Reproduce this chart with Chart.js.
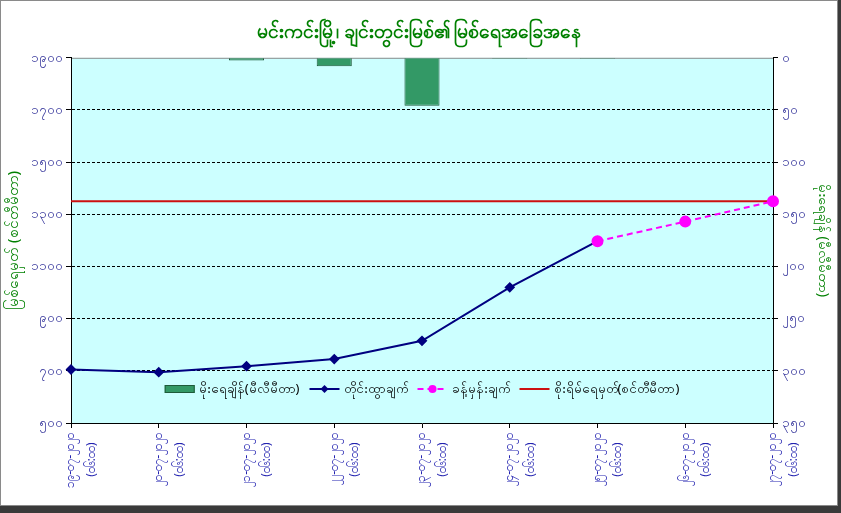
<!DOCTYPE html>
<html>
<head>
<meta charset="utf-8">
<script src="https://cdn.jsdelivr.net/npm/chart.js@4.4.1/dist/chart.umd.min.js"></script>
<style>
    body { margin: 0; background: #3a3a3a; }
    #wrap { position: absolute; left: 0; top: 0; width: 836px; height: 504px; background: #fff; border: 1px solid #8a8a8a; }
</style>
</head>
<body>
<div id="wrap"><canvas id="riverChart" width="836" height="504"></canvas></div>
<script>
// Chart data
const dateLabels = ['၁၉-၀၇-၂၀၂၀', '၂၀-၀၇-၂၀၂၀', '၂၁-၀၇-၂၀၂၀', '၂၂-၀၇-၂၀၂၀', '၂၃-၀၇-၂၀၂၀',
                    '၂၄-၀၇-၂၀၂၀', '၂၅-၀၇-၂၀၂၀', '၂၆-၀၇-၂၀၂၀', '၂၇-၀၇-၂၀၂၀'];
const timeLabel = '(၀၆:၀၀)';

const rainfall = [null, null, 2.5, 8, 46, 1, 1, null, null];
const observed = [705, 695, 718, 745, 815, 1020, 1197, null, null];
const forecast = [null, null, null, null, null, null, 1197, 1272, 1350];
const dangerLevel = [1350, 1350, 1350, 1350, 1350, 1350, 1350, 1350, 1350];

const leftTicks = ['၅၀၀', '၇၀၀', '၉၀၀', '၁၁၀၀', '၁၃၀၀', '၁၅၀၀', '၁၇၀၀', '၁၉၀၀'];
const rightTicks = ['၀', '၅၀', '၁၀၀', '၁၅၀', '၂၀၀', '၂၅၀', '၃၀၀', '၃၅၀'];

const seriesNames = ['မိုးရေချိန်(မီလီမီတာ)', 'တိုင်းထွာချက်', 'ခန့်မှန်းချက်', 'စိုးရိမ်ရေမှတ်(စင်တီမီတာ)'];
const chartTitle = 'မင်းကင်းမြို့၊ ချင်းတွင်းမြစ်၏ မြစ်ရေအခြေအနေ';
const leftTitle = 'မြစ်ရေမှတ် (စင်တီမီတာ)';
const rightTitle = 'မိုးရေချိန် (မီလီမီတာ)';

Chart.defaults.font.family = '"Noto Sans", "DejaVu Sans", sans-serif';

// cyan plot background + grey top border
const plotBackground = {
    id: 'plotBackground',
    beforeDraw(chart) {
        const { ctx, chartArea: a } = chart;
        ctx.save();
        ctx.fillStyle = '#ccffff';
        ctx.fillRect(a.left, a.top, a.right - a.left, a.bottom - a.top);
        ctx.strokeStyle = '#8c8c8c';
        ctx.lineWidth = 1;
        ctx.beginPath();
        ctx.moveTo(a.left, a.top + 0.5);
        ctx.lineTo(a.right, a.top + 0.5);
        ctx.stroke();
        ctx.restore();
    }
};

// legend drawn inside the plot area, near the bottom
const insideLegend = {
    id: 'insideLegend',
    afterDatasetsDraw(chart) {
        const { ctx, chartArea: a } = chart;
        const sets = chart.data.datasets;
        ctx.save();
        ctx.font = '13px "Noto Sans", "DejaVu Sans", sans-serif';
        const sym = 30, gap = 4, space = 10;
        const widths = sets.map(d => sym + gap + ctx.measureText(d.label).width);
        const total = widths.reduce((s, w) => s + w, 0) + space * (sets.length - 1);
        let x = (a.left + a.right) / 2 - total / 2;
        const y = a.bottom - 34;
        sets.forEach((d, i) => {
            if (d.type === 'bar') {
                ctx.fillStyle = d.backgroundColor;
                ctx.strokeStyle = d.borderColor;
                ctx.lineWidth = 1;
                ctx.fillRect(x, y - 4, sym, 8);
                ctx.strokeRect(x + 0.5, y - 3.5, sym - 1, 7);
            } else {
                ctx.strokeStyle = d.borderColor;
                ctx.lineWidth = d.borderWidth;
                ctx.setLineDash(d.borderDash || []);
                ctx.beginPath();
                ctx.moveTo(x, y);
                ctx.lineTo(x + sym, y);
                ctx.stroke();
                ctx.setLineDash([]);
                if (d.pointRadius > 0) {
                    ctx.fillStyle = d.pointBackgroundColor;
                    const r = d.pointRadius;
                    const cx = x + sym / 2;
                    ctx.beginPath();
                    if (d.pointStyle === 'rectRot') {
                        ctx.moveTo(cx, y - r);
                        ctx.lineTo(cx + r, y);
                        ctx.lineTo(cx, y + r);
                        ctx.lineTo(cx - r, y);
                        ctx.closePath();
                    } else {
                        ctx.arc(cx, y, r - 1, 0, Math.PI * 2);
                    }
                    ctx.fill();
                }
            }
            ctx.fillStyle = '#000';
            ctx.textBaseline = 'middle';
            ctx.textAlign = 'left';
            ctx.fillText(d.label, x + sym + gap, y);
            x += widths[i] + space;
        });
        ctx.restore();
    }
};

const ctx = document.getElementById('riverChart').getContext('2d');
new Chart(ctx, {
    data: {
        // trailing spaces centre the shorter time line against the date line
        labels: dateLabels.map(d => [d, timeLabel + '   ']),
        datasets: [
            {
                type: 'bar',
                label: seriesNames[0],
                data: rainfall,
                yAxisID: 'y1',
                backgroundColor: '#339966',
                borderColor: '#1e5a3a',
                borderWidth: 1,
                barPercentage: 0.4,
                categoryPercentage: 1,
                order: 2
            },
            {
                type: 'line',
                label: seriesNames[1],
                data: observed,
                yAxisID: 'y',
                borderColor: '#000080',
                borderWidth: 2,
                pointStyle: 'rectRot',
                pointRadius: 4,
                pointBackgroundColor: '#000080',
                pointBorderColor: '#000080',
                order: 1
            },
            {
                type: 'line',
                label: seriesNames[2],
                data: forecast,
                yAxisID: 'y',
                borderColor: '#ff00ff',
                borderWidth: 2,
                borderDash: [6, 4],
                pointStyle: 'circle',
                pointRadius: 5,
                pointBackgroundColor: '#ff00ff',
                pointBorderColor: '#ff00ff',
                order: 0
            },
            {
                type: 'line',
                label: seriesNames[3],
                data: dangerLevel,
                yAxisID: 'y',
                borderColor: '#cc1010',
                borderWidth: 2,
                pointRadius: 0,
                order: 3
            }
        ]
    },
    options: {
        responsive: false,
        animation: false,
        layout: { padding: 0 },
        plugins: {
            legend: { display: false },
            tooltip: { enabled: false },
            title: {
                display: true,
                text: chartTitle,
                color: '#008000',
                font: { size: 19, weight: 'bold' },
                padding: { top: 20, bottom: 14 }
            }
        },
        scales: {
            x: {
                type: 'category',
                offset: false,
                grid: { drawOnChartArea: false, offset: false, tickLength: 5, tickColor: '#000' },
                border: { color: '#000', width: 1 },
                ticks: {
                    color: '#2222b0',
                    font: { size: 12, lineHeight: 1.7 },
                    minRotation: 90,
                    maxRotation: 90,
                    padding: 5,
                    autoSkip: false
                },
                afterFit(scale) { scale.height = 82; }
            },
            y: {
                position: 'left',
                min: 500,
                max: 1900,
                ticks: {
                    stepSize: 200,
                    color: '#33339a',
                    font: { size: 13 },
                    padding: 3,
                    callback: v => leftTicks[Math.round((v - 500) / 200)]
                },
                grid: {
                    color: c => (c.tick && (c.tick.value === 1900 || c.tick.value === 500)) ? 'rgba(0,0,0,0)' : '#000',
                    tickColor: '#000',
                    tickLength: 5
                },
                border: { color: '#000', width: 1, dash: [3, 2] },
                title: { display: true, text: leftTitle, color: '#008000', font: { size: 15 }, padding: { top: 4 } },
                afterFit(scale) { scale.width = 70; }
            },
            y1: {
                position: 'right',
                min: 0,
                max: 350,
                reverse: true,
                ticks: {
                    stepSize: 50,
                    color: '#33339a',
                    font: { size: 13 },
                    padding: 4,
                    callback: v => rightTicks[Math.round(v / 50)]
                },
                grid: { drawOnChartArea: false, tickColor: '#000', tickLength: 5 },
                border: { color: '#000', width: 1 },
                title: { display: true, text: rightTitle, color: '#008000', font: { size: 14 }, padding: { top: 6 } },
                afterFit(scale) { scale.width = 64; }
            }
        }
    },
    plugins: [plotBackground, insideLegend]
});
</script>
</body>
</html>
